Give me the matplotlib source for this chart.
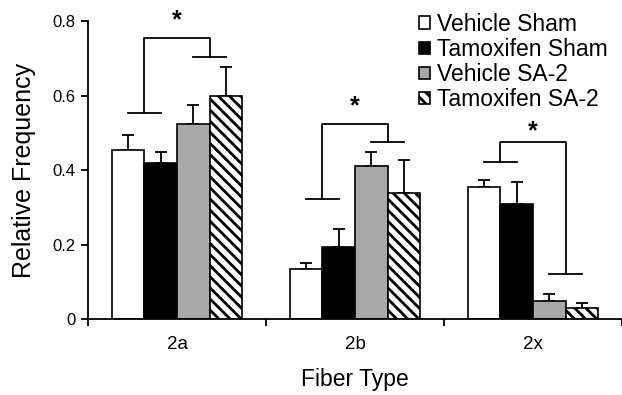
import numpy as np
import matplotlib
matplotlib.use("Agg")
import matplotlib.pyplot as plt

plt.rcParams['font.family'] = ['Liberation Sans', 'DejaVu Sans']
plt.rcParams['hatch.linewidth'] = 2.0

fiber_types = ["2a", "2b", "2x"]
groups = ["Vehicle Sham", "Tamoxifen Sham", "Vehicle SA-2", "Tamoxifen SA-2"]

# средние значения по группам (строки) для каждого типа волокон (столбцы)
means = [
    [0.454, 0.134, 0.354],
    [0.419, 0.194, 0.310],
    [0.523, 0.410, 0.049],
    [0.600, 0.337, 0.029],
]
# верхние планки погрешности (абсолютная высота)
err_tops = [
    [0.494, 0.150, 0.372],
    [0.448, 0.241, 0.369],
    [0.574, 0.448, 0.067],
    [0.676, 0.427, 0.044],
]

# скобки значимости: уровень для Sham-пары, для SA-2-пары и верхняя перекладина
bracket_sham = [0.553, 0.322, 0.421]
bracket_sa2 = [0.704, 0.474, 0.121]
bracket_top = [0.755, 0.523, 0.476]
star_y = [0.770, 0.540, 0.473]

facecolors = ["white", "black", "#a8a8a8", "white"]
hatches = [None, None, None, "\\\\\\"]

fig = plt.figure(figsize=(6.22, 3.95), dpi=100)
ax = fig.add_axes([0.1415, 0.1924, 0.8585, 0.7544])

x = np.arange(len(fiber_types))
width = 0.183

for i, g in enumerate(groups):
    pos = x + (i - 1.5) * width
    m = np.array(means[i])
    err = np.array(err_tops[i]) - m
    ax.bar(pos, m, width, color=facecolors[i], edgecolor="black", linewidth=1.2,
           hatch=hatches[i], label=g, zorder=2)
    ax.errorbar(pos, m, yerr=[np.zeros_like(err), err], fmt="none", ecolor="black",
                elinewidth=1.3, capsize=4, capthick=1.3, zorder=1)

# скобки со звёздочками
for k in range(len(fiber_types)):
    xl = x[k] - width
    xr = x[k] + width
    lw = 1.3
    ax.plot([xl - width / 2, xl + width / 2], [bracket_sham[k]] * 2, color="black", lw=lw)
    ax.plot([xr - width / 2, xr + width / 2], [bracket_sa2[k]] * 2, color="black", lw=lw)
    ax.plot([xl, xl, xr, xr], [bracket_sham[k], bracket_top[k], bracket_top[k], bracket_sa2[k]],
            color="black", lw=lw)
    ax.text(x[k], star_y[k], "*", ha="center", va="bottom", fontsize=18,
            fontweight="bold", clip_on=False)

ax.set_xlim(-0.5, 2.5)
ax.set_ylim(0, 0.8)
ax.set_yticks([0, 0.2, 0.4, 0.6, 0.8])
ax.set_yticklabels(["0", "0.2", "0.4", "0.6", "0.8"])
ax.set_xticks(x)
ax.set_xticklabels(fiber_types)
ax.set_xticks([-0.5, 0.5, 1.5, 2.5], minor=True)
ax.tick_params(axis="x", which="major", length=0, pad=12, labelsize=13.5)
ax.tick_params(axis="x", which="minor", length=5, width=1.3, direction="out")
ax.tick_params(axis="y", length=5, width=1.3, labelsize=12, pad=4)

for s in ["top", "right"]:
    ax.spines[s].set_visible(False)
for s in ["left", "bottom"]:
    ax.spines[s].set_linewidth(1.3)

ax.set_ylabel("Relative Frequency", fontsize=18)
ax.yaxis.set_label_coords(-0.097, 0.5)
ax.set_xlabel("Fiber Type", fontsize=16.5, labelpad=11)

fig.legend(loc="upper left", bbox_to_anchor=(0.654, 1.0), frameon=False,
           fontsize=16.5, handlelength=0.45, handleheight=0.45, handletextpad=0.3,
           labelspacing=0.1, borderaxespad=0.15)

fig.savefig("out.png", dpi=100)
